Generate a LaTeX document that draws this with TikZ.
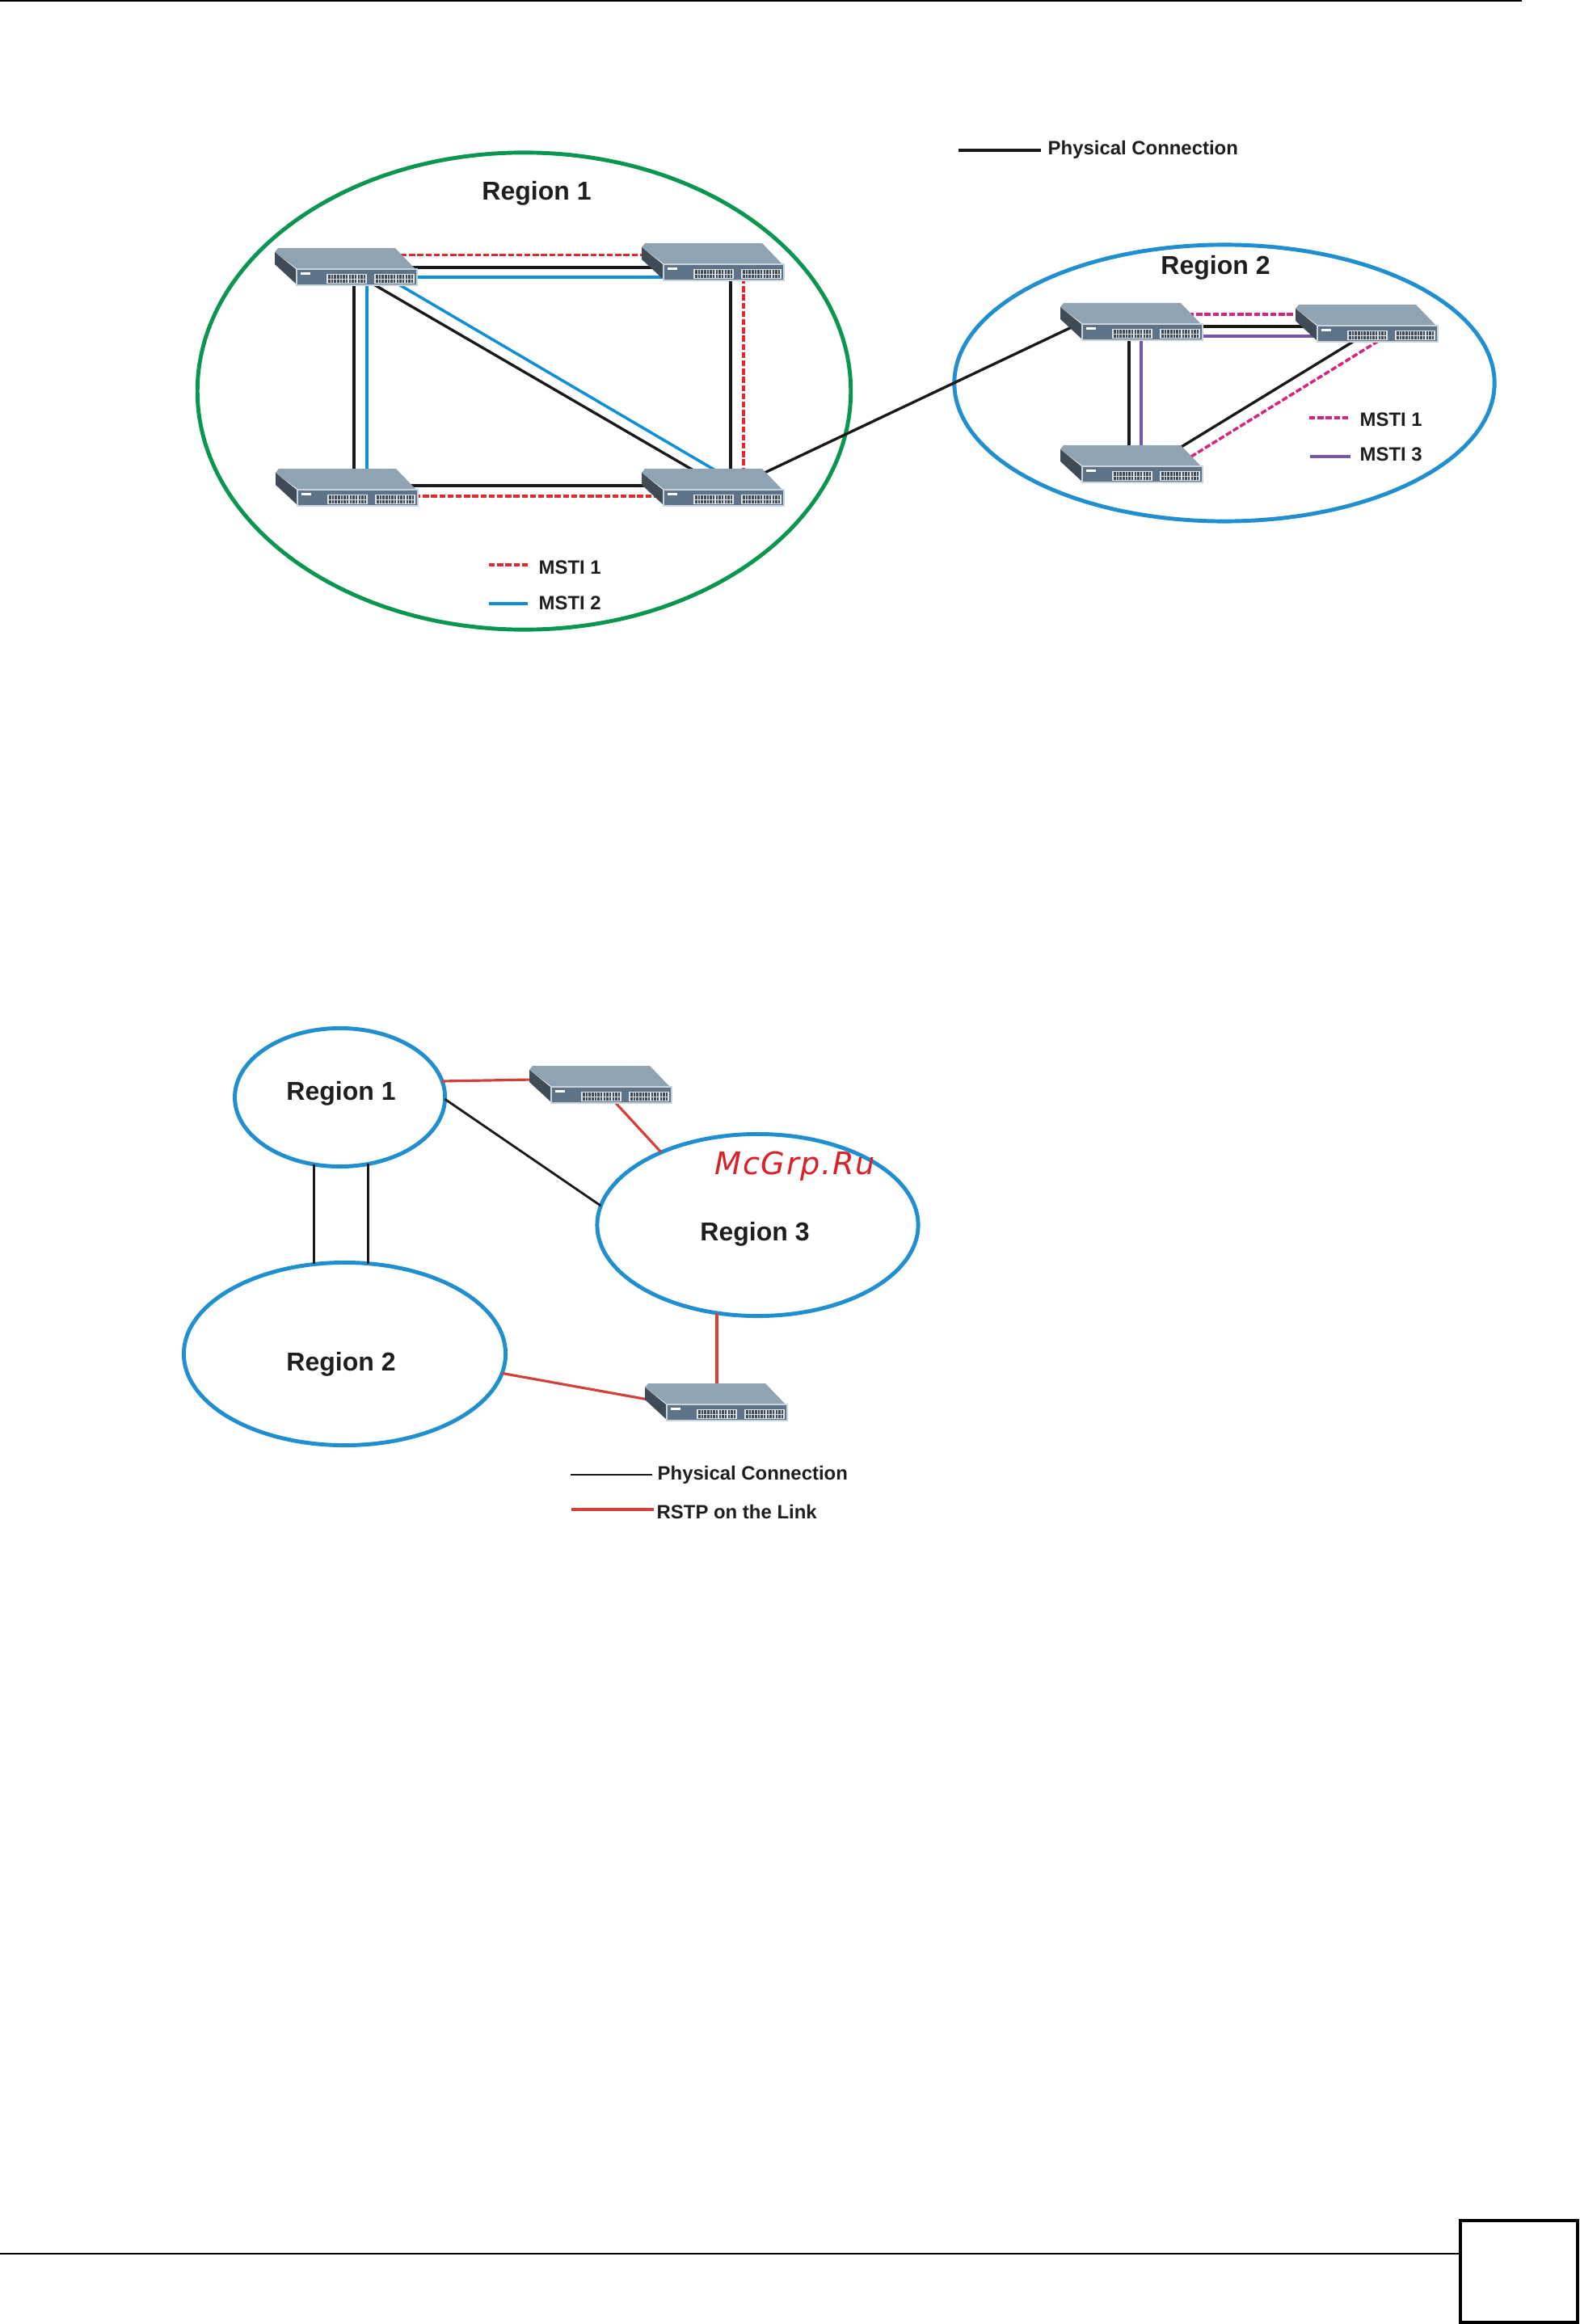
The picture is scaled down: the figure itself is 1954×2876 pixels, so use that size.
\documentclass[tikz,border=0pt]{standalone}
\usepackage{fontspec}
\setmainfont{Liberation Sans}
\newfontfamily\markfont[LetterSpace=4]{DejaVu Sans}
\usetikzlibrary{shapes.geometric}
\definecolor{my_green}{HTML}{0A9650}
\definecolor{my_blue}{HTML}{0F8FD6}
\definecolor{my_region_blue}{HTML}{1F8FD0}
\definecolor{my_red}{HTML}{DE2A2E}
\definecolor{my_pink}{HTML}{D6257F}
\definecolor{my_purple}{HTML}{7357A8}
\definecolor{my_rstp}{HTML}{D2403C}
\definecolor{my_ink}{HTML}{1E1E1E}
\definecolor{my_top}{HTML}{90A3B3}
\definecolor{my_side}{HTML}{3F4B57}
\definecolor{my_front}{HTML}{5E7387}
\definecolor{my_edge}{HTML}{C9D3DC}
\definecolor{my_port}{HTML}{DDE3E8}
\definecolor{my_mark}{HTML}{DA2128}
\tikzset{my_picture/.style={x=0.01cm,y=-0.01cm}}
\tikzset{my_switch_box/.style={rectangle, minimum width=1.76cm, minimum height=0.46cm, inner sep=0pt, outer sep=0pt}}
\tikzset{my_region/.style={ellipse, draw, line width=1.4pt, inner sep=0pt, outer sep=0pt}}
\tikzset{my_name/.style={text=my_ink, font=\fontsize{9.1}{11}\selectfont\bfseries, inner sep=0pt}}
\tikzset{my_key/.style={text=my_ink, anchor=west, font=\fontsize{6.8}{8}\selectfont\bfseries, inner sep=0pt}}
\tikzset{my_physical/.style={draw=black!90, line width=0.95pt}}
\tikzset{my_msti_red/.style={draw=my_red, line width=1pt, dash pattern=on 2.1pt off 0.8pt}}
\tikzset{my_msti_pink/.style={draw=my_pink, line width=1pt, dash pattern=on 2.1pt off 0.8pt}}
\tikzset{my_msti_blue/.style={draw=my_blue, line width=1pt}}
\tikzset{my_msti_purple/.style={draw=my_purple, line width=1pt}}
\tikzset{my_rstp_line/.style={draw=my_rstp, line width=0.9pt}}
\tikzset{my_cells/.style={draw=my_side, line width=1.2pt, dash pattern=on 0.72pt off 0.32pt}}
\tikzset{my_switch/.pic={
    \fill[my_top] (-88,-18) -- (-84,-23) -- (61,-23) -- (86,3) -- (-60,3) -- cycle;
    \fill[my_side] (-88,-18) -- (-62,3) -- (-62,21) -- (-88,-3) -- cycle;
    \fill[my_front, draw=my_edge, line width=0.3pt] (-61,3) rectangle (88,23);
    \fill[white] (-56,7) rectangle (-44,10);
    \fill[my_port] (-24,9) rectangle (26,21);
    \fill[my_port] (35,9) rectangle (85,21);
    \draw[my_cells] (-22,12.5) -- (24,12.5);
    \draw[my_cells] (-22,18) -- (24,18);
    \draw[my_cells] (37,12.5) -- (83,12.5);
    \draw[my_cells] (37,18) -- (83,18);
}}

\begin{document}
\begin{tikzpicture}[my_picture]
    \useasboundingbox (0,0) rectangle (1954,2876);
    % page rules
    \draw[line width=0.57pt] (0,1) -- (1883,1);
    \node[rectangle, draw, line width=1.14pt, minimum width=1.45cm, minimum height=1.26cm, inner sep=0pt, outer sep=0pt] (page_box) at (1879.5,2811) {};
    \coordinate (foot) at (0,2789);
    \draw[line width=0.57pt] (foot) -- (foot -| page_box.west);

    % upper picture
    \node[my_region, draw=my_green, minimum width=8.08cm, minimum height=5.9cm] (upper_1) at (648.5,484) {};
    \node[my_region, draw=my_region_blue, minimum width=6.68cm, minimum height=3.42cm] (upper_2) at (1515,474) {};
    \node[my_name] (upper_1_name) at (664,239) {Region 1};
    \node[my_name] (upper_2_name) at (1504,331) {Region 2};
    \node[my_switch_box] (a) at (428,330) {};
    \node[my_switch_box] (b) at (882,324) {};
    \node[my_switch_box] (c) at (429,603) {};
    \node[my_switch_box] (d) at (882,603) {};
    \node[my_switch_box] (p) at (1400,398) {};
    \node[my_switch_box] (q) at (1691,400) {};
    \node[my_switch_box] (r) at (1400,574) {};

    \draw[my_msti_red] ([shift={(68,-14.5)}]a.center) -- ([shift={(-85,-8.5)}]b.center);
    \draw[my_physical] ([shift={(78,1)}]a.center) -- ([shift={(-70,7)}]b.center);
    \draw[my_msti_blue] ([shift={(84,13)}]a.center) -- ([shift={(-60,19)}]b.center);
    \draw[my_physical] ([shift={(10,20)}]a.center) -- ([shift={(9,-20)}]c.center);
    \draw[my_msti_blue] ([shift={(26,20)}]a.center) -- ([shift={(25,-20)}]c.center);
    \draw[my_physical] ([shift={(31,20)}]a.center) -- ([shift={(-24,-21)}]d.center);
    \draw[my_msti_blue] ([shift={(62,20)}]a.center) -- ([shift={(3,-21)}]d.center);
    \draw[my_physical] ([shift={(22,20)}]b.center) -- ([shift={(22,-20)}]d.center);
    \draw[my_msti_red] ([shift={(38,20)}]b.center) -- ([shift={(38,-20)}]d.center);
    \draw[my_physical] ([shift={(76,-2)}]c.center) -- ([shift={(-80,-2)}]d.center);
    \draw[my_msti_red] ([shift={(84,11)}]c.center) -- ([shift={(-68,11)}]d.center);
    \draw[my_physical] ([shift={(62,-17)}]d.center) -- ([shift={(-70,5)}]p.center);
    \draw[my_msti_pink] ([shift={(70,-9)}]p.center) -- ([shift={(-85,-11)}]q.center);
    \draw[my_physical] ([shift={(80,6)}]p.center) -- ([shift={(-72,4)}]q.center);
    \draw[my_msti_purple] ([shift={(80,18)}]p.center) -- ([shift={(-60,16)}]q.center);
    \draw[my_physical] ([shift={(-3,20)}]p.center) -- ([shift={(-3,-20)}]r.center);
    \draw[my_msti_purple] ([shift={(12,20)}]p.center) -- ([shift={(12,-20)}]r.center);
    \draw[my_physical] ([shift={(-15.5,22)}]q.center) -- ([shift={(60,-20)}]r.center);
    \draw[my_msti_pink] ([shift={(14.5,22)}]q.center) -- ([shift={(70,-6.6)}]r.center);

    \pic at (a.center) {my_switch};
    \pic at (b.center) {my_switch};
    \pic at (c.center) {my_switch};
    \pic at (d.center) {my_switch};
    \pic at (p.center) {my_switch};
    \pic at (q.center) {my_switch};
    \pic at (r.center) {my_switch};

    % upper keys
    \coordinate (k_phys_a) at (1186,186);
    \coordinate (k_phys_b) at (1288,186);
    \coordinate (k_red_a) at (605,699);
    \coordinate (k_red_b) at (653,699);
    \coordinate (k_blue_a) at (605,747);
    \coordinate (k_blue_b) at (653,747);
    \coordinate (k_pink_a) at (1620,517);
    \coordinate (k_pink_b) at (1671,517);
    \coordinate (k_purple_a) at (1621,565);
    \coordinate (k_purple_b) at (1671,565);
    \draw[my_physical] (k_phys_a) -- (k_phys_b);
    \draw[my_msti_red] (k_red_a) -- (k_red_b);
    \draw[my_msti_blue] (k_blue_a) -- (k_blue_b);
    \draw[my_msti_pink] (k_pink_a) -- (k_pink_b);
    \draw[my_msti_purple] (k_purple_a) -- (k_purple_b);
    \node[my_key] (phys_text) at (1296,185.5) {Physical Connection};
    \node[my_key] (red_text) at (666,702) {MSTI 1};
    \node[my_key] (blue_text) at (666,746.5) {MSTI 2};
    \node[my_key] (pink_text) at (1682,519) {MSTI 1};
    \node[my_key] (purple_text) at (1682,562) {MSTI 3};

    % lower picture
    \node[my_region, draw=my_region_blue, minimum width=2.6cm, minimum height=1.71cm] (lower_1) at (420.6,1358) {};
    \node[my_region, draw=my_region_blue, minimum width=3.98cm, minimum height=2.26cm] (lower_2) at (426.5,1675.5) {};
    \node[my_region, draw=my_region_blue, minimum width=3.97cm, minimum height=2.25cm] (lower_3) at (937.5,1516) {};
    \node[my_name] (lower_1_name) at (422,1353.5) {Region 1};
    \node[my_name] (lower_2_name) at (422,1688) {Region 2};
    \node[my_name] (lower_3_name) at (934,1527.6) {Region 3};
    \node[my_switch_box] (s1) at (743,1342) {};
    \node[my_switch_box] (s2) at (886,1735) {};
    \coordinate (s2_top) at ([shift={(1,-20)}]s2.center);

    \draw[my_rstp_line] (lower_1.9) -- ([shift={(-84,-6)}]s1.center);
    \draw[my_rstp_line] ([shift={(18,22)}]s1.center) -- (lower_3.143);
    \draw[my_physical, line width=0.8pt] (lower_1.-1) -- (lower_3.173);
    \draw[my_physical, line width=0.8pt] (lower_1.-111) -- (lower_1.-111 |- lower_2.108);
    \draw[my_physical, line width=0.8pt] (lower_1.-67) -- (lower_1.-67 |- lower_2.76);
    \draw[my_rstp_line] (lower_2.-7.5) -- ([shift={(-84,-3)}]s2.center);
    \draw[my_rstp_line] (s2_top) -- (s2_top |- lower_3.-114);
    \pic at (s1.center) {my_switch};
    \pic at (s2.center) {my_switch};

    % lower keys
    \coordinate (k_link_a) at (706,1825);
    \coordinate (k_link_b) at (807,1825);
    \coordinate (k_rstp_a) at (707,1868);
    \coordinate (k_rstp_b) at (809,1868);
    \draw[my_physical, line width=0.8pt] (k_link_a) -- (k_link_b);
    \draw[my_rstp_line] (k_rstp_a) -- (k_rstp_b);
    \node[my_key] (link_text) at (813,1825.5) {Physical Connection};
    \node[my_key] (rstp_text) at (812,1870.5) {RSTP on the Link};

    \node[text=my_mark, anchor=base west, inner sep=0pt, font=\fontsize{10.9}{13}\selectfont\markfont\itshape] (mark) at (884,1453) {McGrp.Ru};
\end{tikzpicture}
\end{document}
